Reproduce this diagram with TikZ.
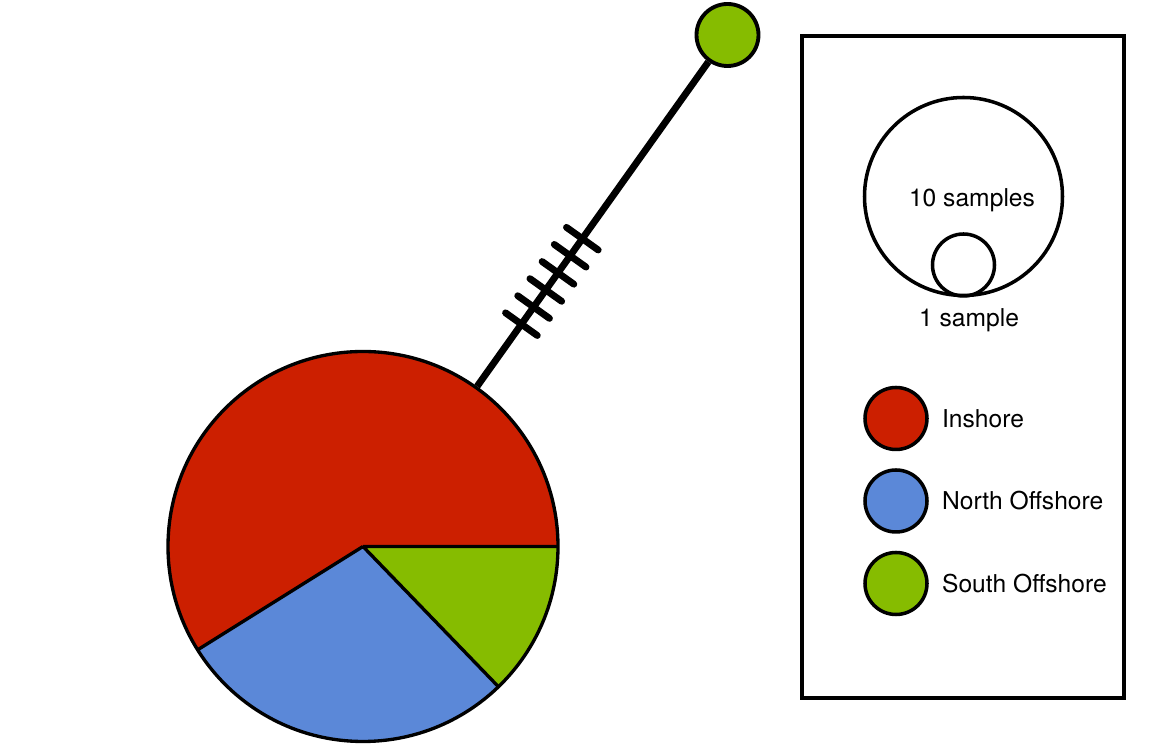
\documentclass[tikz,border=0pt]{standalone}
\usepackage{fontspec}
\setmainfont{TeX Gyre Heros}
\usetikzlibrary{calc,positioning}
\definecolor{inshore}{RGB}{204,31,0}
\definecolor{northoff}{RGB}{91,136,216}
\definecolor{southoff}{RGB}{134,188,0}

\begin{document}
\begin{tikzpicture}[every node/.style={font=\fontsize{14}{17}\selectfont},
	hap/.style={circle, draw, line width=2pt, inner sep=0pt, minimum size=#1},
	lab/.style={inner sep=0pt},
	branch/.style={line width=3.9pt, line cap=round}]
	\useasboundingbox (0,0) rectangle (23.08,14.9);
	% pie for the large haplotype
	\coordinate (c) at (7.26,3.97);
	\fill[inshore] (c) -- ++(0:3.9) arc (0:212:3.9) -- cycle;
	\fill[northoff] (c) -- ++(212:3.9) arc (212:314:3.9) -- cycle;
	\fill[southoff] (c) -- ++(314:3.9) arc (314:360:3.9) -- cycle;
	\draw[line width=1.9pt] (c) -- ++(0:3.9) (c) -- ++(212:3.9) (c) -- ++(314:3.9);
	\node[hap=7.8cm, line width=1.9pt] (pie) at (c) {};
	\node[hap=1.24cm, fill=southoff, line width=2.2pt] (sg) at (14.55,14.2) {};
	\draw[line width=3.9pt] (pie) -- (sg);
	% mutation steps
	\foreach \d in {5.46,5.88,6.30,6.72,7.14,7.56}
		\draw[branch] ($(pie)!\d cm!(sg)$) +(144.5:0.39) -- +(-35.5:0.39);
	% legend
	\node[draw, line width=1.9pt, minimum width=6.44cm, minimum height=13.24cm] (legend) at (19.26,7.56) {};
	\node[hap=3.96cm] (s10) at (19.27,10.97) {};
	\node[hap=1.24cm] (s1) at (19.27,9.6) {};
	\node at (19.44,10.9) {10 samples};
	\node at (19.38,8.5) {1 sample};
	\node[hap=1.24cm, fill=inshore] (ins) at (17.92,6.53) {};
	\node[hap=1.24cm, fill=northoff] (north) at (17.92,4.88) {};
	\node[hap=1.24cm, fill=southoff] (south) at (17.92,3.23) {};
	\node[lab, right=0.26cm of ins] {Inshore};
	\node[lab, right=0.26cm of north] {North Offshore};
	\node[lab, right=0.26cm of south] {South Offshore};
\end{tikzpicture}
\end{document}
